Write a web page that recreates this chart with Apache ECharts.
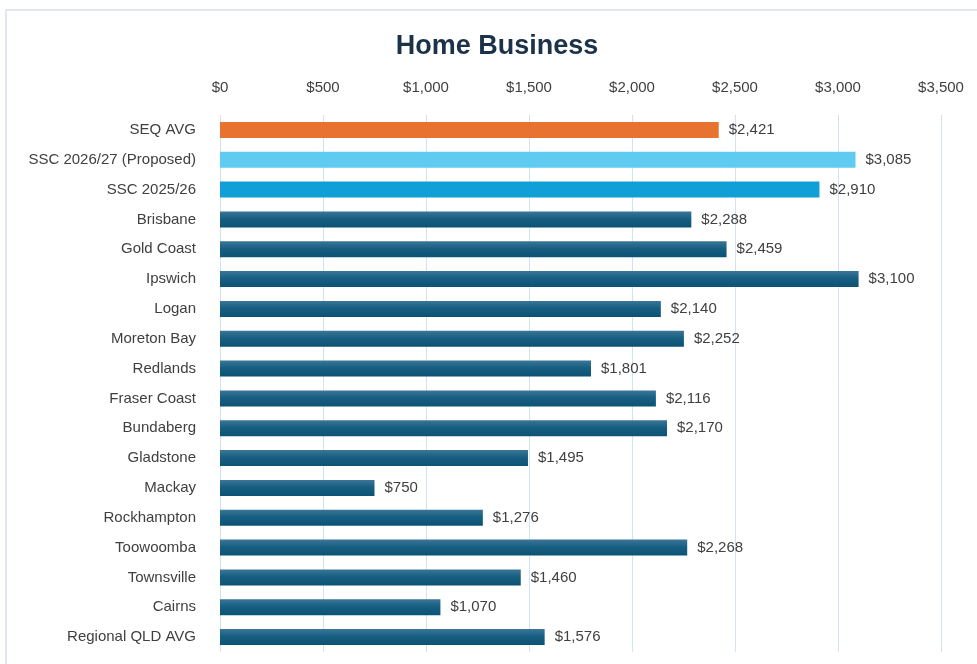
<!DOCTYPE html>
<html>
<head>
<meta charset="utf-8">
<script src="https://cdn.jsdelivr.net/npm/echarts@6/dist/echarts.min.js"></script>
<style>
  html, body { margin: 0; padding: 0; background: #fff; }
  #frame { position: absolute; left: 5px; top: 9px; width: 990px; height: 660px; border: 2px solid #dfe8f0; box-sizing: border-box; }
  #main { width: 977px; height: 664px; position: absolute; left: 0; top: 0; }
</style>
</head>
<body>
<div id="frame"></div>
<div id="main"></div>
<script>
var councils = ['SEQ AVG', 'SSC 2026/27 (Proposed)', 'SSC 2025/26', 'Brisbane', 'Gold Coast', 'Ipswich',
    'Logan', 'Moreton Bay', 'Redlands', 'Fraser Coast', 'Bundaberg', 'Gladstone', 'Mackay',
    'Rockhampton', 'Toowoomba', 'Townsville', 'Cairns', 'Regional QLD AVG'];
var charges = [2421, 3085, 2910, 2288, 2459, 3100, 2140, 2252, 1801, 2116, 2170, 1495, 750,
    1276, 2268, 1460, 1070, 1576];
var highlight = {
    'SEQ AVG': '#e8722f',
    'SSC 2026/27 (Proposed)': '#5fcbf1',
    'SSC 2025/26': '#109fd6'
};

var fontFam = "'Liberation Sans Narrow', 'Arial Narrow', 'Liberation Sans', Arial, sans-serif";

function money(v) {
    return '$' + v.toLocaleString('en-US');
}

var barData = charges.map(function (v, i) {
    var c = highlight[councils[i]];
    return {
        value: v,
        itemStyle: {
            color: c ? c : new echarts.graphic.LinearGradient(0, 0, 0, 1, [
                { offset: 0, color: '#3b7697' },
                { offset: 0.45, color: '#175f82' },
                { offset: 1, color: '#0c5274' }
            ])
        }
    };
});

var myChart = echarts.init(document.getElementById('main'));
myChart.setOption({
    animation: false,
    title: {
        text: 'Home Business',
        left: 492,
        textAlign: 'center',
        top: 28,
        textStyle: { fontFamily: fontFam, fontSize: 27, fontWeight: 'bold', color: '#1c3249' }
    },
    grid: { left: 220, right: 36, top: 115, bottom: 12, containLabel: false },
    xAxis: {
        type: 'value',
        position: 'top',
        min: 0,
        max: 3500,
        interval: 500,
        axisLine: { show: false },
        axisTick: { show: false },
        splitLine: { lineStyle: { color: '#d3e2f2', width: 1 } },
        axisLabel: {
            margin: 20,
            fontFamily: fontFam,
            fontSize: 15,
            color: '#404040',
            formatter: money
        }
    },
    yAxis: {
        type: 'category',
        inverse: true,
        data: councils,
        axisLine: { show: false },
        axisTick: { show: false },
        axisLabel: { margin: 24, fontFamily: fontFam, fontSize: 15, color: '#404040' }
    },
    series: [{
        type: 'bar',
        data: barData,
        barWidth: 16,
        label: {
            show: true,
            position: 'right',
            distance: 10,
            fontFamily: fontFam,
            fontSize: 15,
            color: '#404040',
            formatter: function (p) { return money(p.value); }
        }
    }]
});
</script>
</body>
</html>
